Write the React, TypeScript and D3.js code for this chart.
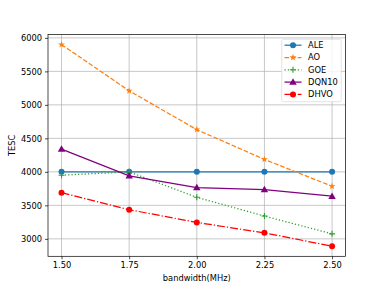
import React, { useEffect, useRef } from "react";
import * as d3 from "d3";

const bandwidth = [1.5, 1.75, 2.0, 2.25, 2.5];
const xTicks = [1.5, 1.75, 2.0, 2.25, 2.5];
const yTicks = [3000, 3500, 4000, 4500, 5000, 5500, 6000];

const ALE = [4000, 4000, 4000, 4000, 4000];
const AO = [5900, 5210, 4630, 4186, 3785];
const GOE = [3950, 4000, 3620, 3340, 3075];
const DQN10 = [4340, 3940, 3766, 3736, 3636];
const DHVO = [3690, 3435, 3245, 3090, 2890];

const series = [
    { name: "ALE", values: ALE, color: "#1f77b4", dash: null, marker: "circle" },
    { name: "AO", values: AO, color: "#ff7f0e", dash: "4.6,2", marker: "star" },
    { name: "GOE", values: GOE, color: "#2ca02c", dash: "1.25,2.06", marker: "plus" },
    { name: "DQN10", values: DQN10, color: "#800080", dash: null, marker: "triangle" },
    { name: "DHVO", values: DHVO, color: "#ff0000", dash: "8,2,1.25,2", marker: "circle" }
];

const W = 384;
const H = 288;
const margin = { left: 48, right: 38.4, top: 34.5, bottom: 31.7 };

function drawMarker(g, type, color, x, y) {
    if (type === "circle") {
        g.append("circle").attr("cx", x).attr("cy", y).attr("r", 3).attr("fill", color);
    } else if (type === "star") {
        g.append("path")
            .attr("d", d3.symbol().type(d3.symbolStar).size(15)())
            .attr("transform", `translate(${x},${y})`)
            .attr("fill", color);
    } else if (type === "triangle") {
        g.append("path")
            .attr("d", d3.symbol().type(d3.symbolTriangle).size(24)())
            .attr("transform", `translate(${x},${y + 0.5})`)
            .attr("fill", color);
    } else if (type === "plus") {
        g.append("path")
            .attr("d", `M${x - 3},${y}H${x + 3}M${x},${y - 3}V${y + 3}`)
            .attr("stroke", color)
            .attr("stroke-width", 1.1);
    }
}

export default function App() {
    const svgRef = useRef(null);

    useEffect(() => {
        const svg = d3.select(svgRef.current);
        svg.selectAll("*").remove();

        const all = series.flatMap(s => s.values);
        const lo = d3.min(all);
        const hi = d3.max(all);
        const pad = (hi - lo) * 0.05;

        const x = d3
            .scaleLinear()
            .domain([1.45, 2.55])
            .range([margin.left, W - margin.right]);
        const y = d3
            .scaleLinear()
            .domain([lo - pad, hi + pad])
            .range([H - margin.bottom, margin.top]);

        const font = "DejaVu Sans, sans-serif";

        // grid
        const grid = svg.append("g").attr("stroke", "#b0b0b0").attr("stroke-width", 0.7);
        xTicks.forEach(t => {
            grid.append("line")
                .attr("x1", x(t)).attr("x2", x(t))
                .attr("y1", margin.top).attr("y2", H - margin.bottom);
        });
        yTicks.forEach(t => {
            grid.append("line")
                .attr("y1", y(t)).attr("y2", y(t))
                .attr("x1", margin.left).attr("x2", W - margin.right);
        });

        // lines
        const line = d3
            .line()
            .x((d, i) => x(bandwidth[i]))
            .y(d => y(d));

        series.forEach(s => {
            svg.append("path")
                .attr("d", line(s.values))
                .attr("fill", "none")
                .attr("stroke", s.color)
                .attr("stroke-width", 1.25)
                .attr("stroke-dasharray", s.dash);
            const mg = svg.append("g");
            s.values.forEach((v, i) => drawMarker(mg, s.marker, s.color, x(bandwidth[i]), y(v)));
        });

        // axes
        const xAxis = d3
            .axisBottom(x)
            .tickValues(xTicks)
            .tickFormat(d3.format(".2f"))
            .tickSize(3)
            .tickPadding(3);
        const yAxis = d3
            .axisLeft(y)
            .tickValues(yTicks)
            .tickFormat(d3.format("d"))
            .tickSize(3)
            .tickPadding(3);

        const gx = svg.append("g")
            .attr("transform", `translate(0,${H - margin.bottom})`)
            .call(xAxis);
        const gy = svg.append("g")
            .attr("transform", `translate(${margin.left},0)`)
            .call(yAxis);
        [gx, gy].forEach(g => {
            g.select(".domain").remove();
            g.selectAll("line").attr("stroke", "#000").attr("stroke-width", 0.7);
            g.selectAll("text")
                .attr("font-family", font)
                .attr("font-size", 8.3)
                .attr("fill", "#000");
        });

        svg.append("rect")
            .attr("x", margin.left)
            .attr("y", margin.top)
            .attr("width", W - margin.left - margin.right)
            .attr("height", H - margin.top - margin.bottom)
            .attr("fill", "none")
            .attr("stroke", "#000")
            .attr("stroke-width", 0.7);

        svg.append("text")
            .attr("x", (margin.left + W - margin.right) / 2)
            .attr("y", 280.5)
            .attr("text-anchor", "middle")
            .attr("font-family", font)
            .attr("font-size", 8.3)
            .text("bandwidth(MHz)");

        svg.append("text")
            .attr("transform", `translate(15,${(margin.top + H - margin.bottom) / 2}) rotate(-90)`)
            .attr("text-anchor", "middle")
            .attr("font-family", font)
            .attr("font-size", 8.3)
            .text("TESC");

        // legend
        const lg = svg.append("g");
        lg.append("rect")
            .attr("x", 281.7)
            .attr("y", 39.3)
            .attr("width", 59.5)
            .attr("height", 62.4)
            .attr("rx", 2)
            .attr("fill", "#fff")
            .attr("fill-opacity", 0.8)
            .attr("stroke", "#d9d9d9")
            .attr("stroke-width", 0.7);
        series.forEach((s, i) => {
            const ly = 45.2 + i * 12.3;
            lg.append("line")
                .attr("x1", 284.5).attr("x2", 301.5)
                .attr("y1", ly).attr("y2", ly)
                .attr("stroke", s.color)
                .attr("stroke-width", 1.25)
                .attr("stroke-dasharray", s.dash);
            drawMarker(lg, s.marker, s.color, 293, ly);
            lg.append("text")
                .attr("x", 308)
                .attr("y", ly)
                .attr("dy", "0.35em")
                .attr("font-family", font)
                .attr("font-size", 8.3)
                .text(s.name);
        });
    }, []);

    return (
        <svg
            ref={svgRef}
            width={W}
            height={H}
            style={{ position: "absolute", left: 0, top: 0, background: "#fff" }}
        />
    );
}
